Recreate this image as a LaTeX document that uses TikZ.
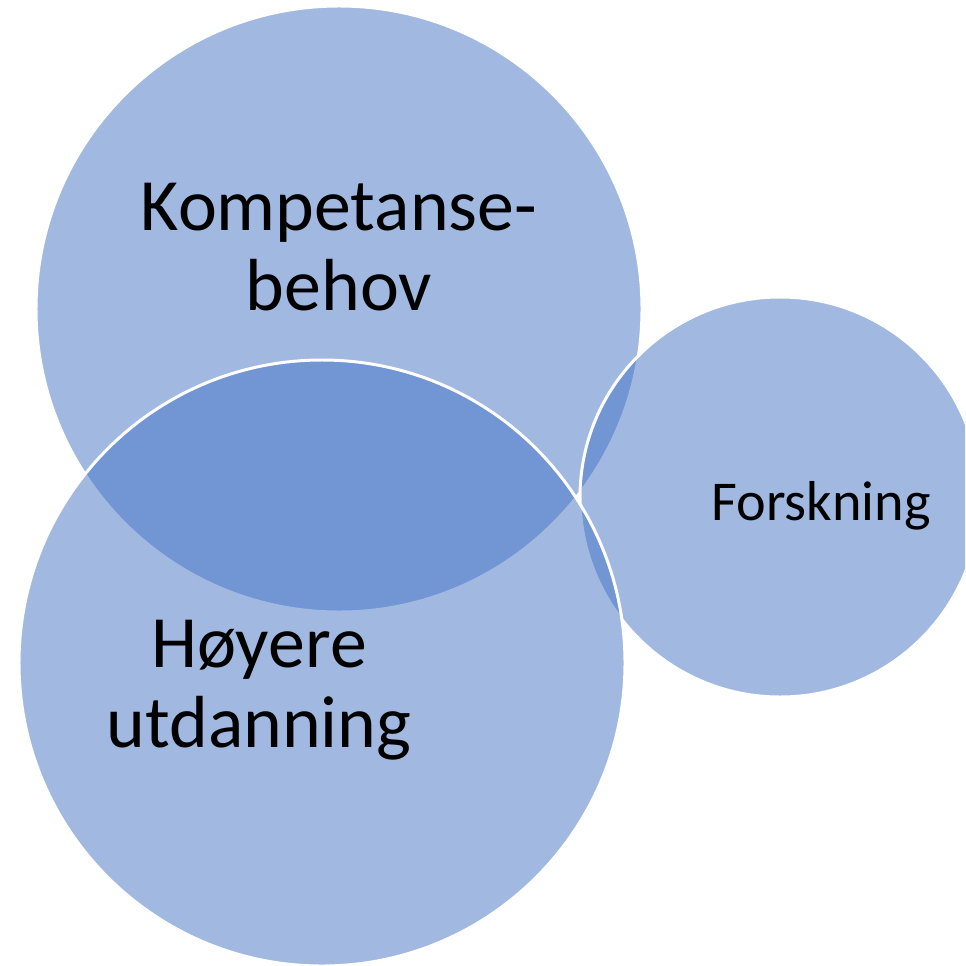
\documentclass[tikz,border=0pt]{standalone}
\usepackage{fontspec}
\setmainfont{Carlito}
\definecolor{vennblue}{HTML}{4472C4}
\tikzset{
	venn/.style={fill=vennblue, fill opacity=0.5, draw=white, line width=1.7pt},
	storetekst/.style={align=center, anchor=base, font=\fontsize{42}{45.5}\selectfont},
	litentekst/.style={anchor=base, font=\fontsize{32}{38}\selectfont}
}
\begin{document}
\begin{tikzpicture}[x=0.02cm, y=-0.02cm]
		\useasboundingbox (0, 0) rectangle (965, 966);
		\clip (0, 0) rectangle (965, 966);

		% sirklene: kompetanse, forskning, utdanning
		\path[venn]	(339, 309) circle (303);
		\path[venn]	(780, 497) circle (200);
		\path[venn]	(322, 663) circle (303);

		\node[storetekst] (kompetanse) at (339, 310) {Kompetanse-\\behov};
		\node[storetekst] (utdanning) at (259, 747) {Høyere\\utdanning};
		\node[litentekst] (forskning) at (821, 520) {Forskning};
	\end{tikzpicture}
\end{document}
